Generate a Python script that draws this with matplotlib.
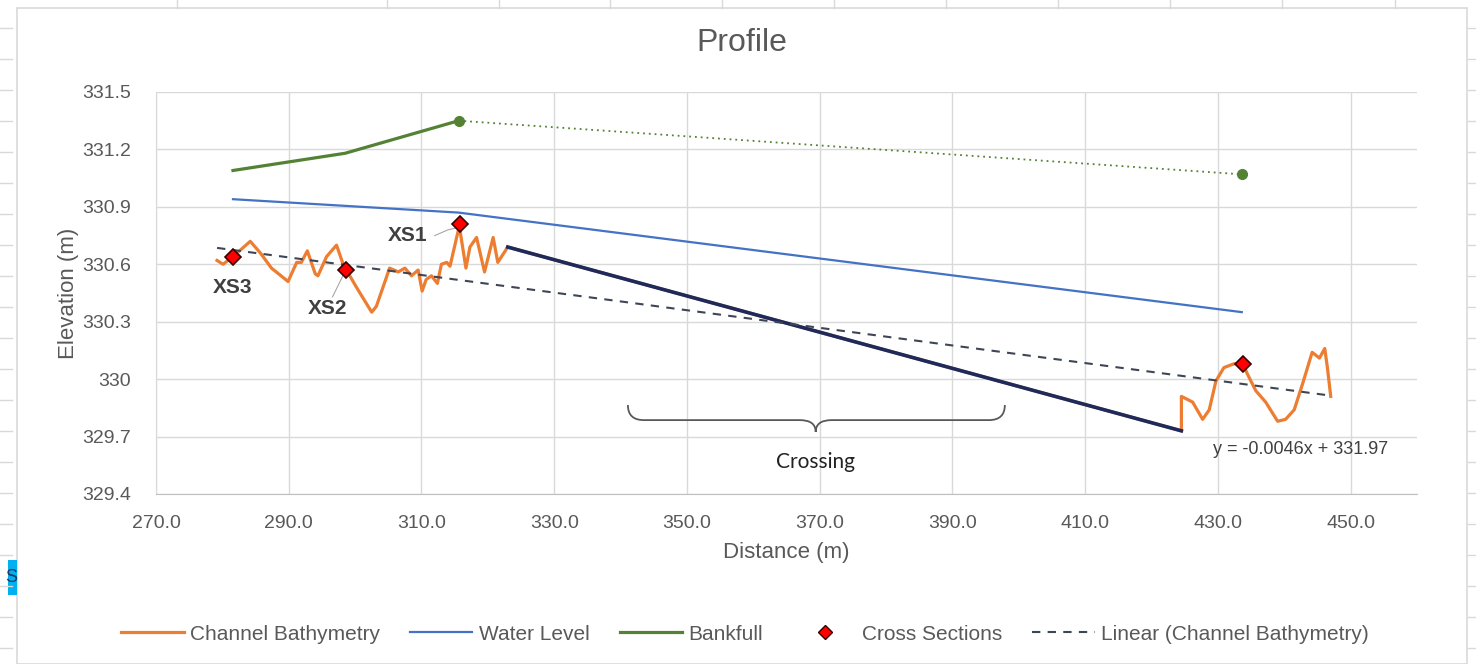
import matplotlib.pyplot as plt
from matplotlib.path import Path
from matplotlib.patches import PathPatch, Rectangle
from matplotlib.lines import Line2D

plt.rcParams['font.family'] = ['Liberation Sans', 'DejaVu Sans']

# Channel bathymetry profile (distance m, elevation m)
bathy_x = [279.2, 280.1, 281.6, 284.2, 285.7, 287.4, 289.9, 291.2, 291.9, 292.8,
           294.0, 294.4, 295.7, 297.2, 298.2, 298.7, 300.2, 302.5, 303.2, 305.2,
           306.5, 307.5, 308.5, 309.5, 310.1, 310.7, 311.5, 312.4, 313.0, 313.8,
           314.3, 315.7, 316.7, 317.3, 318.3, 319.5, 320.8, 321.5, 323.0,
           424.5, 424.5, 426.2, 427.7, 428.7, 429.7, 430.9, 432.4, 433.8, 434.4,
           435.7, 437.2, 439.0, 440.2, 441.5, 442.8, 444.2, 445.3, 446.1, 446.5, 447.0]
bathy_y = [330.62, 330.60, 330.64, 330.72, 330.66, 330.58, 330.51, 330.61, 330.61, 330.67,
           330.55, 330.54, 330.64, 330.70, 330.60, 330.57, 330.48, 330.35, 330.38, 330.58,
           330.56, 330.58, 330.54, 330.57, 330.46, 330.52, 330.54, 330.50, 330.60, 330.61,
           330.59, 330.80, 330.58, 330.69, 330.74, 330.56, 330.74, 330.61, 330.69,
           329.73, 329.91, 329.88, 329.79, 329.84, 329.99, 330.06, 330.08, 330.08, 330.03,
           329.94, 329.88, 329.78, 329.79, 329.84, 329.98, 330.14, 330.11, 330.16, 330.06, 329.91]

# Interpolated crossing segment
cross_x = [323.0, 424.5]
cross_y = [330.69, 329.73]

water_x = [281.6, 315.6, 433.6]
water_y = [330.94, 330.87, 330.35]

bank_x = [281.6, 298.5, 315.6]
bank_y = [331.09, 331.18, 331.35]
bank_ext_x = [315.6, 433.6]
bank_ext_y = [331.35, 331.07]

xs_x = [281.6, 298.6, 315.8, 433.8]
xs_y = [330.64, 330.57, 330.81, 330.08]

trend_slope = -0.0046
trend_icpt = 331.97

W, H = 1476, 664
fig = plt.figure(figsize=(W / 100, H / 100), dpi=100)

# spreadsheet surroundings
grey = '#D9D9D9'
fig.patches.append(Rectangle((17 / W, 0), (1467 - 17) / W, 1 - 8 / H, transform=fig.transFigure,
                             fill=False, edgecolor=grey, lw=1.2))
for yy in range(28, 664, 31):
    fig.add_artist(Line2D([0, 12 / W], [1 - yy / H] * 2, color=grey, lw=1))
    fig.add_artist(Line2D([1468 / W, 1], [1 - yy / H] * 2, color=grey, lw=1))
for xx in [177, 387, 499, 610, 722, 834, 946, 1058, 1170, 1282, 1395]:
    fig.add_artist(Line2D([xx / W] * 2, [1 - 8 / H, 1], color=grey, lw=1))
fig.patches.append(Rectangle((8 / W, 1 - 595 / H), 9 / W, 35 / H, transform=fig.transFigure,
                             facecolor='#00B0F0', edgecolor='none'))
fig.text(11 / W, 1 - 578 / H, 'S', fontsize=13, va='center', ha='center', color='#1F3864')

ax = fig.add_axes([156 / W, 1 - 494 / H, (1417 - 156) / W, (494 - 92) / H])

# orange line, then the interpolated crossing on top
ax.plot(bathy_x, bathy_y, color='#ED7D31', lw=2.3, zorder=3)
ax.plot(cross_x, cross_y, color='#1F2A5C', lw=2.6, zorder=4)
ax.plot(water_x, water_y, color='#4472C4', lw=1.6, zorder=3)
ax.plot(bank_x, bank_y, color='#548235', lw=2.3, zorder=3)
ax.plot(bank_ext_x, bank_ext_y, color='#548235', lw=1.3, ls=(0, (1, 2.2)), zorder=3)
ax.plot([bank_x[-1], bank_ext_x[-1]], [bank_y[-1], bank_ext_y[-1]], ls='none',
        marker='o', ms=7, color='#548235', zorder=5)
ax.plot(xs_x, xs_y, ls='none', marker='D', ms=8.5, mfc='#FF0000', mec='#3A0000', mew=1.2, zorder=6)

tx = [min(bathy_x), max(bathy_x)]
ax.plot(tx, [trend_slope * v + trend_icpt for v in tx], color='#3E4656', lw=1.5,
        ls=(0, (4, 3.5)), zorder=5)

# axes styling
ax.set_xlim(270, 460)
ax.set_ylim(329.4, 331.5)
ax.set_xticks([270 + 20 * i for i in range(10)])
ax.set_xticklabels(['%.1f' % (270 + 20 * i) for i in range(10)])
yt = [329.4, 329.7, 330.0, 330.3, 330.6, 330.9, 331.2, 331.5]
ax.set_yticks(yt)
ax.set_yticklabels(['329.4', '329.7', '330', '330.3', '330.6', '330.9', '331.2', '331.5'])
ax.grid(True, color='#D9D9D9', lw=1)
ax.set_axisbelow(True)
for s in ['top', 'right']:
    ax.spines[s].set_visible(False)
ax.spines['left'].set_color('#D9D9D9')
ax.spines['bottom'].set_color('#BFBFBF')
ax.tick_params(length=0, labelsize=14, colors='#595959')
ax.tick_params(axis='x', pad=15)
ax.tick_params(axis='y', pad=18)
ax.set_xlabel('Distance (m)', fontsize=16, color='#595959', labelpad=7)
ax.set_ylabel('Elevation (m)', fontsize=16, color='#595959', labelpad=2)
fig.text(742 / W, 1 - 43 / H, 'Profile', fontsize=23, color='#595959', ha='center', va='center')

# labels for cross sections
lab = dict(fontsize=15, fontweight='bold', color='#404040', ha='center', va='center')
ax.text(281.6, 330.48, 'XS3', **lab)
ax.text(295.9, 330.37, 'XS2', **lab)
ax.text(307.9, 330.75, 'XS1', **lab)
ax.plot([296.6, 298.3], [330.43, 330.55], color='#A6A6A6', lw=0.8)
ax.plot([312.0, 314.0, 315.3], [330.75, 330.78, 330.79], color='#A6A6A6', lw=0.8)

ax.text(429.2, 329.635, 'y = -0.0046x + 331.97', fontsize=13, color='#404040', va='center')

# crossing brace
x0, x1, xm = 341.1, 397.9, 369.4
yt0, yh, yb = 329.865, 329.786, 329.724
r = 2.4
verts = [(x0, yt0), (x0, yh), (x0 + r, yh), (xm - r, yh), (xm, yh), (xm, yb),
         (xm, yh), (xm + r, yh), (x1 - r, yh), (x1, yh), (x1, yt0)]
codes = [Path.MOVETO, Path.CURVE3, Path.CURVE3, Path.LINETO, Path.CURVE3, Path.CURVE3,
         Path.CURVE3, Path.CURVE3, Path.LINETO, Path.CURVE3, Path.CURVE3]
ax.add_patch(PathPatch(Path(verts, codes), fill=False, edgecolor='#595959', lw=1.3, zorder=4))
ax.text(xm, 329.567, 'Crossing', fontsize=15, color='#222222', ha='center', va='center',
        family=['Lato', 'DejaVu Sans'])

handles = [Line2D([], [], color='#ED7D31', lw=2.3),
           Line2D([], [], color='#4472C4', lw=1.6),
           Line2D([], [], color='#548235', lw=2.3),
           Line2D([], [], ls='none', marker='D', ms=7, mfc='#FF0000', mec='#3A0000'),
           Line2D([], [], color='#3E4656', lw=1.5, ls=(0, (4, 3.5)))]
names = ['Channel Bathymetry', 'Water Level', 'Bankfull', 'Cross Sections',
         'Linear (Channel Bathymetry)']
fig.legend(handles, names, loc='center', bbox_to_anchor=(745 / W, 1 - 634 / H), ncol=5,
           frameon=False, fontsize=15, handlelength=3.0, columnspacing=1.45,
           labelcolor='#595959', handletextpad=0.3)

fig.savefig('out.png', dpi=100, facecolor='white')
